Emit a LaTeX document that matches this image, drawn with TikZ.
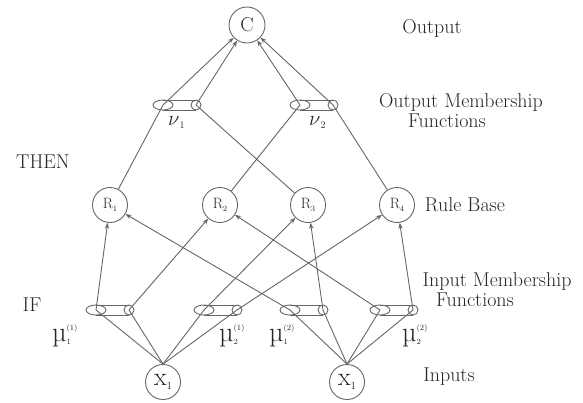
\documentclass[tikz,border=0pt]{standalone}
\usetikzlibrary{arrows.meta}
\newcommand{\smallnum}[1]{{\fontsize{8}{8}\selectfont #1}}
\newcommand{\muLab}[2]{{\fontsize{28}{28}\selectfont µ}\makebox[0pt][l]{\raisebox{-3pt}{\smallnum{#1}}}\raisebox{11pt}{\smallnum{(#2)}}}
\newcommand{\nuLab}[1]{$\fontsize{30}{30}\selectfont\nu$\raisebox{-3pt}{\fontsize{10}{10}\selectfont #1}}
\begin{document}
\begin{tikzpicture}[x=1pt,y=-1pt,
  line/.style={draw=black!60, line width=0.9pt},
  arr/.style={line, -{Stealth[length=6pt,width=4.5pt]}},
  unit/.style={circle, draw=black!60, line width=0.9pt, minimum size=35pt, inner sep=0pt, text=black!85},
  lbl/.style={text=black!85, inner sep=0pt, font=\fontsize{20}{22}\selectfont},
  mf/.pic={
    \draw[black!60, line width=0.9pt] (-14,0) ellipse [x radius=10pt, y radius=5pt];
    \draw[black!60, line width=0.9pt] (19,0) ellipse [x radius=5pt, y radius=5pt];
    \draw[black!60, line width=0.9pt] (-14,-5) -- (19,-5) (-14,5) -- (19,5);
    \coordinate (-L) at (-14,0);
    \coordinate (-R) at (19,0);
  }
]
\useasboundingbox (0,0) rectangle (583,402);

% nodes
\node[unit, minimum size=36pt] (C) at (247,25) {\fontsize{20}{20}\selectfont C};

\pic (v1) at (177,105) {mf};
\pic (v2) at (314,105) {mf};

\node[unit] (R1) at (110,205) {\fontsize{15}{15}\selectfont R\raisebox{-3pt}{\smallnum{1}}};
\node[unit] (R2) at (220,205) {\fontsize{15}{15}\selectfont R\raisebox{-3pt}{\smallnum{2}}};
\node[unit] (R3) at (308,205) {\fontsize{15}{15}\selectfont R\raisebox{-3pt}{\smallnum{3}}};
\node[unit] (R4) at (397,205) {\fontsize{15}{15}\selectfont R\raisebox{-3pt}{\smallnum{4}}};

\pic (m11) at (110,310) {mf};
\pic (m21) at (218,310) {mf};
\pic (m12) at (304,310) {mf};
\pic (m22) at (394,310) {mf};

\node[unit] (X1) at (163,382) {\fontsize{26}{26}\selectfont x\raisebox{-4pt}{\fontsize{11}{11}\selectfont 1}};
\node[unit] (X2) at (347,382) {\fontsize{26}{26}\selectfont x\raisebox{-4pt}{\fontsize{11}{11}\selectfont 1}};

% labels
\node[lbl] (tOut) at (432,28) {Output};
\node[lbl] (tOMF1) at (461,102) {Output Membership};
\node[lbl] (tOMF2) at (447,121) {Functions};
\node[lbl] (tThen) at (43,162) {THEN};
\node[lbl] (tRB) at (465,205) {Rule Base};
\node[lbl] (tIMF1) at (497,282) {Input Membership};
\node[lbl] (tIMF2) at (475,300) {Functions};
\node[lbl] (tIf) at (32,305) {IF};
\node[lbl] (tIn) at (449,377) {Inputs};

\node[lbl, anchor=west] (nu1) at (168,123) {\nuLab{1}};
\node[lbl, anchor=west] (nu2) at (309,123) {\nuLab{2}};

\node[lbl, anchor=west] (mu11) at (52,336) {\muLab{1}{1}};
\node[lbl, anchor=west] (mu21) at (219,336) {\muLab{2}{1}};
\node[lbl, anchor=west] (mu12) at (269,336) {\muLab{1}{2}};
\node[lbl, anchor=west] (mu22) at (402,336) {\muLab{2}{2}};

% inputs to input membership functions
\foreach \m in {m11-L, m11-R, m21-L, m21-R} \draw[line] (X1.north) -- (\m);
\foreach \m in {m12-L, m12-R, m22-L, m22-R} \draw[line] (X2.north) -- (\m);

% input MFs to rules
\draw[arr] (m11-L) -- (R1);
\draw[arr] (m12-L) -- (R1);
\draw[arr] (m11-R) -- (R2);
\draw[arr] (m22-L) -- (R2);
\draw[arr] (m21-L) -- (R3);
\draw[arr] (m12-R) -- (R3);
\draw[arr] (m21-R) -- (R4);
\draw[arr] (m22-R) -- (R4);

% rules to output MFs
\draw[line] (R1) -- (v1-L);
\draw[line] (R3) -- (v1-R);
\draw[line] (R2) -- (v2-L);
\draw[line] (R4) -- (v2-R);

% output MFs to output
\draw[arr] (v1-L) -- (C);
\draw[arr] (v1-R) -- (C);
\draw[arr] (v2-L) -- (C);
\draw[arr] (v2-R) -- (C);
\end{tikzpicture}
\end{document}
